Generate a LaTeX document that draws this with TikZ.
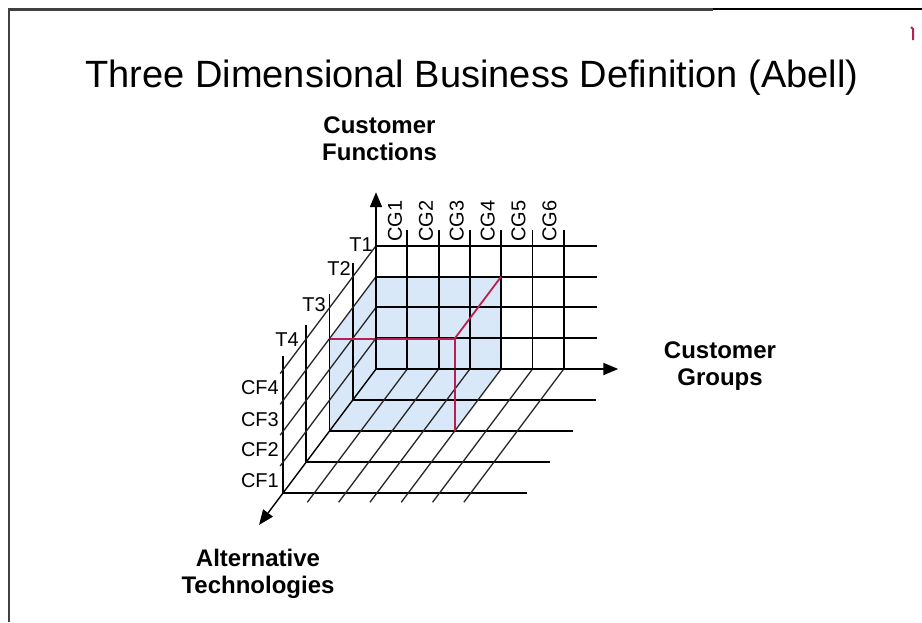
\documentclass[tikz,border=0pt]{standalone}
\usepackage{fontspec}
\setmainfont{Liberation Sans}
\usetikzlibrary{arrows.meta}
\definecolor{boxblue}{RGB}{217,232,248}
\definecolor{edgered}{RGB}{185,30,80}
\begin{document}
\begin{tikzpicture}[x=1pt,y=-1pt,
  gridline/.style={line width=1.9pt,black},
  diagline/.style={line width=1.3pt,black!85},
  axisline/.style={line width=1.9pt,black,-{Triangle[length=15pt,width=12pt]}},
  redline/.style={line width=1.8pt,edgered},
  ticklabel/.style={font=\fontsize{20}{20}\selectfont, inner sep=0pt},
  axislabel/.style={font=\fontsize{24}{27}\selectfont\bfseries, align=center, inner sep=0pt},
  frameline/.style={line width=2.4pt,black!75}]
\useasboundingbox (0,0) rectangle (922,622);
\fill[white] (0,0) rectangle (922,622);
% frame
\draw[frameline] (9,622) -- (9,9.5) -- (713,9.5);
\draw[line width=1.2pt,black] (713,9) -- (922,9);
\draw[line width=2pt,edgered] (911,27) -- (913,29) -- (913,40);
% title
\node[font=\fontsize{38}{40}\selectfont, anchor=base, inner sep=0pt] (title) at (472,87) {Three Dimensional Business Definition (Abell)};
% 3D grid
\begin{scope}[shift={(376pt,-369pt)}, x={(31.3pt,0pt)}, y={(0pt,30.8pt)}, z={(-23.25pt,-31pt)}]
  \coordinate (O) at (0,0,0);
  \coordinate (cftip) at (0,5.74,0);
  \coordinate (cgtip) at (7.74,0,0);
  \coordinate (attip) at (0,0,5.03);
  \fill[boxblue] (0,3,0) -- (4,3,0) -- (4,0,0) -- (4,0,2) -- (0,0,2) -- (0,3,2) -- cycle;
  \foreach \g in {1,...,6} \draw[gridline] (\g,0,0) -- (\g,4.52,0);
  \foreach \h in {1,...,4} \draw[gridline] (0,\h,0) -- (7.06,\h,0);
  \foreach \d in {1,...,4} {
    \draw[gridline] (0,0,\d) -- (0,4.45,\d);
    \draw[gridline] (0,0,\d) -- (7.78,0,\d);
  }
  \foreach \h in {1,...,4} \draw[diagline] (0,\h,0) -- (0,\h,4.12);
  \foreach \g in {1,...,6} \draw[diagline] (\g,0,0) -- (\g,0,4.3);
  \draw[redline] (0,3,2) -- (4,3,2) -- (4,0,2);
  \draw[redline] (4,3,2) -- (4,3,0);
  \draw[axisline] (O) -- (cftip);
  \draw[axisline] (O) -- (cgtip);
  \draw[axisline,line width=1.4pt] (O) -- (attip);
\end{scope}
% tick labels
\node[ticklabel, anchor=east] (t1) at (373,245) {T1};
\node[ticklabel, anchor=east] (t2) at (351,269) {T2};
\node[ticklabel, anchor=east] (t3) at (326,305) {T3};
\node[ticklabel, anchor=east] (t4) at (299,340) {T4};
\node[ticklabel, anchor=east] (cf4) at (279,388) {CF4};
\node[ticklabel, anchor=east] (cf3) at (279,420) {CF3};
\node[ticklabel, anchor=east] (cf2) at (279,450) {CF2};
\node[ticklabel, anchor=east] (cf1) at (279,481) {CF1};
\foreach \g in {1,...,6} {
  \node[ticklabel, rotate=90, anchor=west] (cg\g) at ({395+30.9*(\g-1)},242) {CG\g};
}
% axis labels (base = baseline of the last line)
\node[axislabel, anchor=base] (cflabel) at (379.5,160) {Customer\\Functions};
\node[axislabel, anchor=base] (cglabel) at (720,385) {Customer\\Groups};
\node[axislabel, anchor=base] (atlabel) at (258,593) {Alternative\\Technologies};
\end{tikzpicture}
\end{document}
